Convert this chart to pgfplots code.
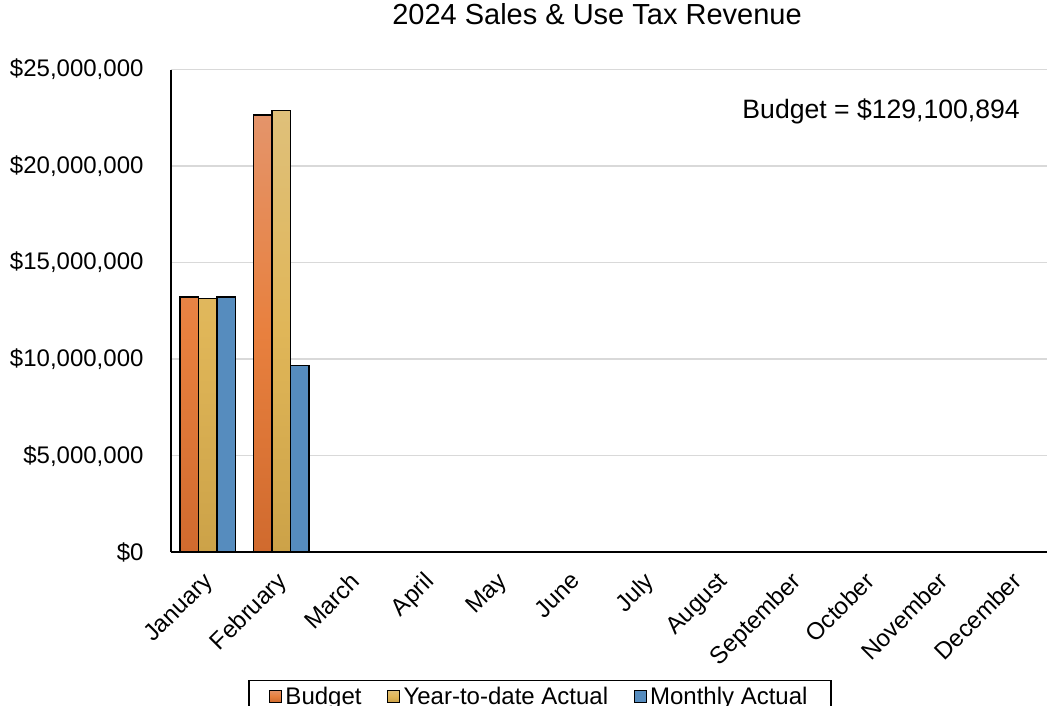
\documentclass[border=0pt]{standalone}
\usepackage{pgfplots}
\pgfplotsset{compat=1.18}
\usepackage{fontspec}
\setmainfont{Liberation Sans}
\definecolor{budT}{RGB}{228,148,106}
\definecolor{budM}{RGB}{232,128,62}
\definecolor{budB}{RGB}{208,106,46}
\definecolor{ytdT}{RGB}{223,192,122}
\definecolor{ytdM}{RGB}{224,182,88}
\definecolor{ytdB}{RGB}{204,162,72}
\definecolor{mon}{RGB}{86,140,190}
\definecolor{gridc}{RGB}{217,217,217}
\begin{document}
\begin{tikzpicture}
\begin{axis}[
  at={(0pt,0pt)}, anchor=south west,
  scale only axis, width=882pt, height=482.7pt,
  xmin=-0.5, xmax=11.5, ymin=0, ymax=25000000,
  enlargelimits=false,
  axis x line*=bottom, axis y line*=left,
  axis line style={black, line width=1.5pt, -},
  major tick length=0pt,
  ytick={0,5000000,10000000,15000000,20000000,25000000},
  scaled y ticks=false,
  /pgf/number format/assume math mode=true,
  yticklabel={\$\pgfmathprintnumber[fixed,precision=0,1000 sep={,}]{\tick}},
  yticklabel style={font=\fontsize{24}{28}\selectfont, xshift=-24pt},
  xtick={0,1,2,3,4,5,6,7,8,9,10,11},
  xticklabels={January,February,March,April,May,June,July,August,September,October,November,December},
  xticklabel style={font=\fontsize{24}{28}\selectfont, rotate=45, anchor=north east, inner sep=2pt, xshift=-15pt, yshift=-7pt},
  ymajorgrids, major grid style={draw=gridc, line width=1.3pt},
  ybar=0pt, bar width=18.5pt,
  title={2024 Sales \& Use Tax Revenue},
  title style={font=\fontsize{29}{34}\selectfont, at={(axis description cs:0.483,1.0798)}, anchor=base},
  legend columns=3,
  legend image code/.code={\draw[#1, draw=black, line width=1pt] (0pt,-6pt) rectangle (12pt,6pt);},
  legend style={at={(axis description cs:0.4184,-0.2648)}, anchor=north, draw=black, line width=1.2pt,
    font=\fontsize{24}{28}\selectfont, inner xsep=20pt, inner ysep=4pt,
    nodes={inner xsep=3.5pt, inner ysep=2pt},
    /tikz/every odd column/.append style={column sep=0pt},
    /tikz/every even column/.append style={column sep=22pt}},
]
\addplot[draw=black, line width=1.5pt, top color=budT, bottom color=budB, middle color=budM]
  coordinates {(0,13210000) (1,22650000)};
\addplot[draw=black, line width=1.5pt, top color=ytdT, bottom color=ytdB, middle color=ytdM]
  coordinates {(0,13130000) (1,22880000)};
\addplot[draw=black, line width=1.5pt, fill=mon]
  coordinates {(0,13210000) (1,9680000)};
\legend{Budget,Year-to-date Actual,Monthly Actual}
\node[anchor=base east, font=\fontsize{26.6}{31}\selectfont, inner sep=0pt] at (rel axis cs:0.9626,0.8995) {Budget = \$129,100,894};
\end{axis}
\pgfresetboundingbox
\useasboundingbox (-171pt,-152.8pt) rectangle (876pt,552.2pt);
\end{tikzpicture}
\end{document}
